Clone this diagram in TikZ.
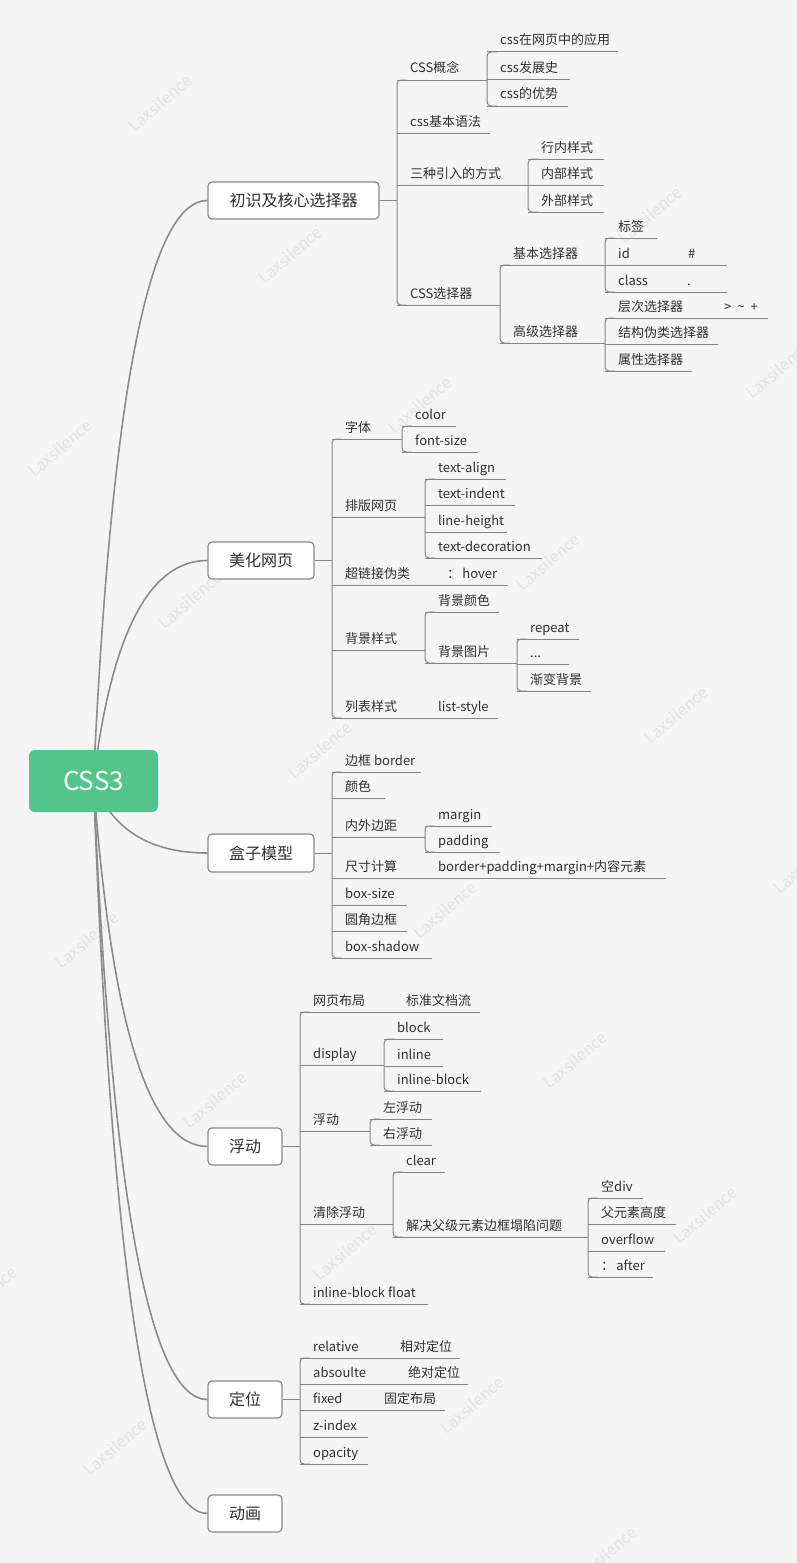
\documentclass[tikz,border=0pt]{standalone}
\usepackage{fontspec}
\newfontfamily\cjk{Noto Sans CJK SC}
\usetikzlibrary{calc,backgrounds}
\definecolor{bg}{HTML}{F5F5F5}
\definecolor{rootg}{HTML}{52C48C}
\definecolor{txt}{HTML}{303030}
\definecolor{lnc}{HTML}{858585}
\definecolor{boxc}{HTML}{8A8A8A}
\definecolor{crv}{HTML}{8C8C8C}
\definecolor{wm}{HTML}{E3E3E3}
\tikzset{
 lbl/.style={anchor=base west,inner sep=0pt,text=txt,font=\cjk\fontsize{13}{15}\selectfont},
 ln/.style={draw=lnc,line width=1pt},
 spn/.style={draw=lnc,line width=1pt,rounded corners=4pt},
 mainbox/.style={draw=boxc,fill=white,line width=1.2pt,rounded corners=4pt,inner sep=0pt,text=txt,font=\cjk\fontsize{16}{18}\selectfont,minimum height=37pt},
 curve/.style={draw=crv,line width=1.6pt},
 wmk/.style={text=wm,font=\cjk\fontsize{16}{18}\selectfont,rotate=40,inner sep=0pt}
}
\newcommand\lf[5]{%
  \node[lbl] (#1) at ({#2+13},{#3-7}) {#5};
  \draw[ln] (#2,#3) -- (#4,#3);}
\newcommand\spn[3]{\draw[spn] ({#1+10},#2) -- (#1,#2) -- (#1,#3) -- ({#1+10},#3);}
\newcommand\crv[2]{\draw[curve] (root.center) .. controls ($(root.center)!2/3!(120,#2)$) and ($(#1.west)!2/3!(120,#2)$) .. (#1.west);}
\begin{document}
\begin{tikzpicture}[x=1pt,y=-1pt]
\useasboundingbox (0,0) rectangle (797,1563);
% root and main boxes
\node[fill=rootg,rounded corners=6pt,minimum width=129pt,minimum height=62pt,inner sep=0pt,text=white,font=\cjk\fontsize{26}{28}\selectfont] (root) at (93.5,781) {CSS3};
\node[mainbox,minimum width=171pt] (b1) at (293.5,200.5) {初识及核心选择器};
\node[mainbox,minimum width=106pt] (b2) at (261,560.5) {美化网页};
\node[mainbox,minimum width=106pt,minimum height=38pt] (b3) at (261,853) {盒子模型};
\node[mainbox,minimum width=74pt] (b4) at (245,1146.5) {浮动};
\node[mainbox,minimum width=74pt] (b5) at (245,1399.5) {定位};
\node[mainbox,minimum width=74pt] (b6) at (245,1513.5) {动画};
\begin{scope}[on background layer]
\fill[bg] (0,0) rectangle (797,1563);
\begin{scope}
\clip (0,0) rectangle (797,1563);
\foreach \wx/\wy in {160/103,290/255,650/215,420/405,60/448,548/562,190/600,676/715,320/750,778/370,445/910,87/940,805/865,575/1060,215/1100,705/1215,345/1252,-15/1295,472/1405,115/1447,605/1555}
  \node[wmk] at (\wx,\wy) {Laxsilence};
\end{scope}
\crv{b1}{200.5}
\crv{b2}{560.5}
\crv{b3}{853}
\crv{b4}{1146.5}
\crv{b5}{1399.5}
\crv{b6}{1513.5}
\end{scope}
% ---- branch 1
\draw[ln] (b1.east) -- (397,200.5);
\spn{397}{80}{305}
\lf{a1}{397}{80}{487}{CSS概念}
\spn{487}{52}{106}
\lf{a11}{487}{52}{618}{css在网页中的应用}
\lf{a12}{487}{79}{570}{css发展史}
\lf{a13}{487}{106}{568}{css的优势}
\lf{a2}{397}{133}{490}{css基本语法}
\lf{a3}{397}{185}{528}{三种引入的方式}
\spn{528}{159}{212}
\lf{a31}{528}{159}{604}{行内样式}
\lf{a32}{528}{185}{604}{内部样式}
\lf{a33}{528}{212}{604}{外部样式}
\lf{a4}{397}{305}{500}{CSS选择器}
\spn{500}{265}{343}
\lf{a41}{500}{265}{605}{基本选择器}
\spn{605}{238}{292}
\lf{a411}{605}{238}{657}{标签}
\lf{a412}{605}{265}{727}{id}
\node[lbl] (a412b) at (688,258) {\#};
\lf{a413}{605}{292}{727}{class}
\node[lbl] (a413b) at (687,285) {.};
\lf{a42}{500}{343}{605}{高级选择器}
\spn{605}{318}{371}
\lf{a421}{605}{318}{768}{层次选择器}
\node[lbl] (a421b) at (724,311) {>\hspace{6pt}\textasciitilde\hspace{6pt}+};
\lf{a422}{605}{344}{718}{结构伪类选择器}
\lf{a423}{605}{371}{692}{属性选择器}
% ---- branch 2
\draw[ln] (b2.east) -- (332,560.5);
\spn{332}{439}{718}
\lf{c1}{332}{439}{402}{字体}
\spn{402}{426}{452}
\lf{c11}{402}{426}{456}{color}
\lf{c12}{402}{452}{478}{font-size}
\lf{c2}{332}{517}{425}{排版网页}
\spn{425}{479}{558}
\lf{c21}{425}{479}{506}{text-align}
\lf{c22}{425}{505}{515}{text-indent}
\lf{c23}{425}{532}{507}{line-height}
\lf{c24}{425}{558}{542}{text-decoration}
\lf{c3}{332}{585}{508}{超链接伪类}
\node[lbl] (c3b) at (447,578) {：\,hover};
\lf{c4}{332}{650}{425}{背景样式}
\spn{425}{612}{663}
\lf{c41}{425}{612}{499}{背景颜色}
\lf{c42}{425}{663}{517}{背景图片}
\spn{517}{639}{691}
\lf{c421}{517}{639}{579}{repeat}
\lf{c422}{517}{664}{569}{...}
\lf{c423}{517}{691}{591}{渐变背景}
\lf{c5}{332}{718}{498}{列表样式}
\node[lbl] (c5b) at (438,711) {list-style};
% ---- branch 3
\draw[ln] (b3.east) -- (332,853);
\spn{332}{772}{958}
\lf{d1}{332}{772}{421}{边框 border}
\lf{d2}{332}{798}{385}{颜色}
\lf{d3}{332}{837}{425}{内外边距}
\spn{425}{826}{852}
\lf{d31}{425}{826}{492}{margin}
\lf{d32}{425}{852}{500}{padding}
\lf{d4}{332}{878}{666}{尺寸计算}
\node[lbl] (d4b) at (438,871) {border+padding+margin+内容元素};
\lf{d5}{332}{905}{407}{box-size}
\lf{d6}{332}{931}{407}{圆角边框}
\lf{d7}{332}{958}{432}{box-shadow}
% ---- branch 4
\draw[ln] (b4.east) -- (300,1146.5);
\spn{300}{1012}{1304}
\lf{e1}{300}{1012}{480}{网页布局}
\node[lbl] (e1b) at (406,1005) {标准文档流};
\lf{e2}{300}{1065}{384}{display}
\spn{384}{1039}{1091}
\lf{e21}{384}{1039}{443}{block}
\lf{e22}{384}{1066}{443}{inline}
\lf{e23}{384}{1091}{481}{inline-block}
\lf{e3}{300}{1131}{370}{浮动}
\spn{370}{1119}{1145}
\lf{e31}{370}{1119}{432}{左浮动}
\lf{e32}{370}{1145}{432}{右浮动}
\lf{e4}{300}{1224}{393}{清除浮动}
\spn{393}{1172}{1237}
\lf{e41}{393}{1172}{445}{clear}
\lf{e42}{393}{1237}{588}{解决父级元素边框塌陷问题}
\spn{588}{1198}{1277}
\lf{e421}{588}{1198}{643}{空div}
\lf{e422}{588}{1224}{676}{父元素高度}
\lf{e423}{588}{1251}{665}{overflow}
\lf{e424}{588}{1277}{653}{：\,after}
\lf{e5}{300}{1304}{428}{inline-block float}
% ---- branch 5
\draw[ln] (b5.east) -- (300,1399.5);
\spn{300}{1358}{1464}
\lf{f1}{300}{1358}{460}{relative}
\node[lbl] (f1b) at (400,1351) {相对定位};
\lf{f2}{300}{1384}{468}{absoulte}
\node[lbl] (f2b) at (408,1377) {绝对定位};
\lf{f3}{300}{1410}{445}{fixed}
\node[lbl] (f3b) at (384,1403) {固定布局};
\lf{f4}{300}{1437}{368}{z-index}
\lf{f5}{300}{1464}{368}{opacity}
\end{tikzpicture}
\end{document}
